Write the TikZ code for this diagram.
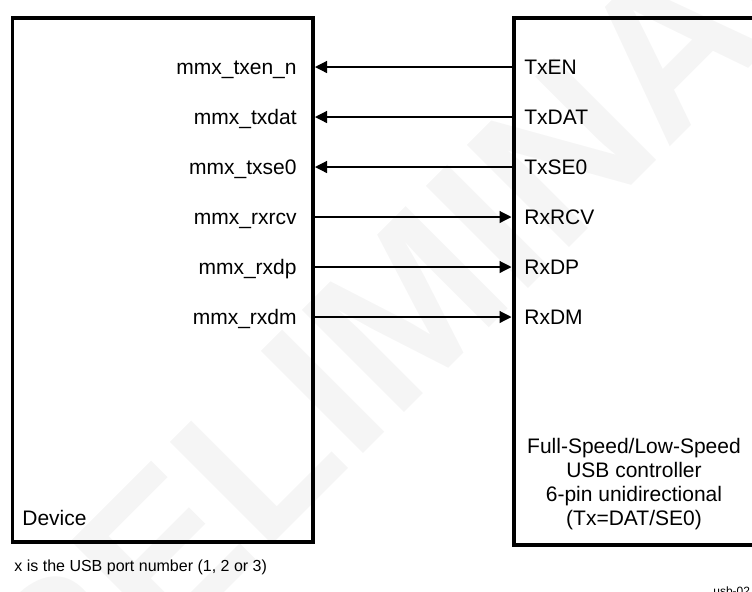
\documentclass[tikz,border=0pt]{standalone}
\usepackage{fontspec}
\setmainfont{Liberation Sans}
\usetikzlibrary{arrows.meta}

\tikzset{
  blockbox/.style={draw, line width=2pt, inner sep=0pt, anchor=north west},
  pinlbl/.style={inner sep=0pt, font=\fontsize{10.5}{12}\selectfont},
  sig/.style={line width=0.6pt, -{Triangle[length=6pt, width=6pt]}},
  wmark/.style={text=gray!8, inner sep=0pt, font=\fontsize{105}{105}\selectfont\bfseries}
}

\begin{document}
\begin{tikzpicture}[x=0.5pt, y=-0.5pt]
  \useasboundingbox (0,0) rectangle (752,591);
  \clip (0,0) rectangle (752,591);

  % 水印
  \node[wmark, rotate=45] (wm) at (415,300) {PRELIMINARY};

  % 两个模块
  \node[blockbox, minimum width=150.25pt, minimum height=261.9pt] (dev) at (10.5,16) {};
  \node[blockbox, minimum width=200pt, minimum height=263.5pt] (ctl) at (511.5,16) {};

  % 引脚
  \foreach \n/\y/\a/\b in {txen/67/mmx\_txen\_n/TxEN,txdat/117/mmx\_txdat/TxDAT,txse0/167/mmx\_txse0/TxSE0,rxrcv/217/mmx\_rxrcv/RxRCV,rxdp/267/mmx\_rxdp/RxDP,rxdm/317/mmx\_rxdm/RxDM} {
    \coordinate (\n) at (400,\y);
    \node[pinlbl, anchor=base east] (d\n) at (297,\y+7) {\a};
    \node[pinlbl, anchor=base west] (c\n) at (524,\y+7) {\b};
  }

  % 连线
  \foreach \n in {txen,txdat,txse0} \draw[sig] (ctl.west |- \n) -- (dev.east |- \n);
  \foreach \n in {rxrcv,rxdp,rxdm} \draw[sig] (dev.east |- \n) -- (ctl.west |- \n);

  % 说明文字
  \node[pinlbl, anchor=base west] (devname) at (22,525) {Device};
  \node[pinlbl, anchor=north, align=center] (ctlname) at (634,438) {Full-Speed/Low-Speed\\USB controller\\6-pin unidirectional\\(Tx=DAT/SE0)};
  \node[inner sep=0pt, anchor=base west, font=\fontsize{8}{9.6}\selectfont] (note) at (14,571) {x is the USB port number (1, 2 or 3)};
  \node[inner sep=0pt, anchor=base west, font=\fontsize{6}{7}\selectfont] (figid) at (713,595) {usb-02};
\end{tikzpicture}
\end{document}
